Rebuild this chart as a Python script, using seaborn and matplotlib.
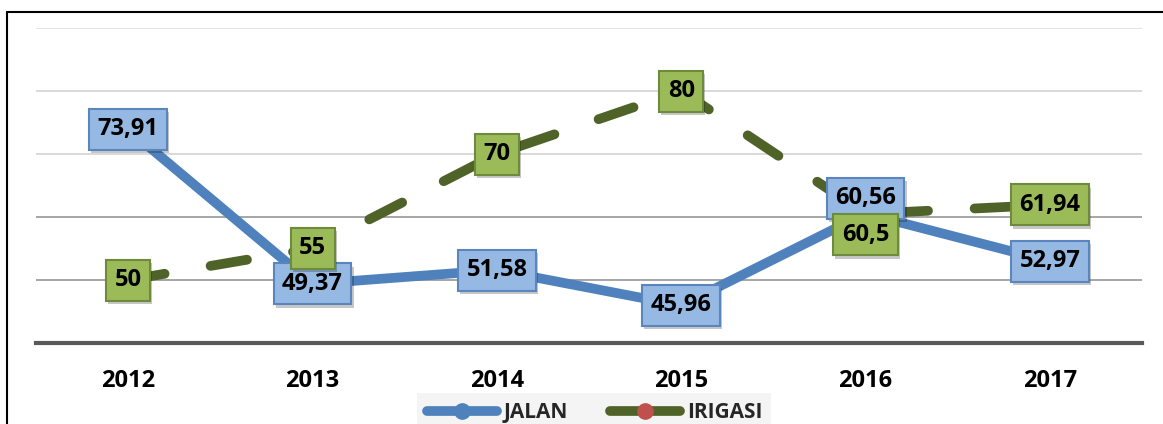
import numpy as np
import pandas as pd
import seaborn as sns
import matplotlib.pyplot as plt
import matplotlib.patheffects as pe
from matplotlib.lines import Line2D

# Data
years = ["2012", "2013", "2014", "2015", "2016", "2017"]
jalan = [73.91, 49.37, 51.58, 45.96, 60.56, 52.97]
irigasi = [50, 55, 70, 80, 60.5, 61.94]
jalan_labels = ["73,91", "49,37", "51,58", "45,96", "60,56", "52,97"]
irigasi_labels = ["50", "55", "70", "80", "60,5", "61,94"]

sns.set_theme(style="white")
plt.rcParams["font.family"] = ["Open Sans", "DejaVu Sans"]

df = pd.DataFrame({"pos": np.arange(len(years)), "JALAN": jalan, "IRIGASI": irigasi})

fig = plt.figure(figsize=(11.63, 4.24), dpi=100)
ax = fig.add_axes([36 / 1163, 81 / 424, 1106 / 1163, 315 / 424])

BLUE = "#4F81BD"
GREEN = "#4F6228"
RED = "#C0504D"

# Gridlines: upper ones lighter
grid_vals = [50, 60, 70, 80, 90]
grid_cols = ["#a6a6a6", "#a6a6a6", "#d9d9d9", "#d9d9d9", "#e3e3e3"]
for v, c in zip(grid_vals, grid_cols):
    ax.axhline(v, color=c, lw=1.4, zorder=0)

sns.lineplot(data=df, x="pos", y="JALAN", ax=ax, color=BLUE, lw=7,
             marker="o", markersize=11, markerfacecolor=BLUE, markeredgecolor=BLUE,
             solid_capstyle="round", zorder=2)
sns.lineplot(data=df, x="pos", y="IRIGASI", ax=ax, color=GREEN, lw=7,
             linestyle=(0, (3.8, 4.8)), dash_capstyle="round",
             marker="o", markersize=11, markerfacecolor=RED, markeredgecolor=RED,
             zorder=3)

ax.set_xlim(-0.5, 5.5)
ax.set_ylim(40, 90)
ax.set_xlabel("")
ax.set_ylabel("")
ax.set_yticks([])
ax.set_xticks(np.arange(len(years)))
ax.set_xticklabels(years, fontsize=17, fontweight="bold", color="black")
ax.tick_params(axis="x", length=0, pad=19)
for s in ["top", "left", "right"]:
    ax.spines[s].set_visible(False)
ax.spines["bottom"].set_color("#595959")
ax.spines["bottom"].set_linewidth(3)
ax.patch.set_alpha(0)

shadow = [pe.withSimplePatchShadow(offset=(1.5, -2.5), shadow_rgbFace="black", alpha=0.22)]


def label(x, y, txt, face, edge, dy=0, z=5):
    t = ax.annotate(txt, (x, y), xytext=(0, dy), textcoords="offset points",
                    ha="center", va="center", fontsize=17, fontweight="bold",
                    color="black", zorder=z,
                    bbox=dict(boxstyle="square,pad=0.36", fc=face, ec=edge, lw=1.5))
    t.get_bbox_patch().set_path_effects(shadow)
    return t


jalan_dy = [0, 0, 0, 0, 11, 0]
irigasi_dy = [0, 0, 0, 0, -15, 0]
for i in range(len(years)):
    label(i, irigasi[i], irigasi_labels[i], "#9BBB59", "#6E8B3D", irigasi_dy[i], z=6 if i != 4 else 7)
    label(i, jalan[i], jalan_labels[i], "#95B9E3", "#5B86BD", jalan_dy[i], z=5 if i != 1 else 4)

# Legend
handles = [
    Line2D([], [], color=BLUE, lw=7, marker="o", markersize=11,
           markerfacecolor=BLUE, markeredgecolor=BLUE, solid_capstyle="round"),
    Line2D([], [], color=GREEN, lw=7, marker="o", markersize=11,
           markerfacecolor=RED, markeredgecolor=RED, solid_capstyle="round"),
]
leg = fig.legend(handles, ["JALAN", "IRIGASI"], loc="lower center",
                 bbox_to_anchor=(0.511, -0.045), ncol=2, frameon=True,
                 fancybox=False, handlelength=3.4, columnspacing=2.0,
                 handletextpad=0.3, borderpad=0.45,
                 prop={"weight": "bold", "size": 15})
leg.get_frame().set_facecolor("#f2f2f2")
leg.get_frame().set_edgecolor("none")

# Outer chart frame
fig.add_artist(Line2D([7 / 1163, 7 / 1163], [0, 1 - 12 / 424], color="black", lw=1.5,
                      transform=fig.transFigure))
fig.add_artist(Line2D([7 / 1163, 1], [1 - 12 / 424, 1 - 12 / 424], color="black", lw=1.5,
                      transform=fig.transFigure))

fig.savefig("out.png", dpi=100)
